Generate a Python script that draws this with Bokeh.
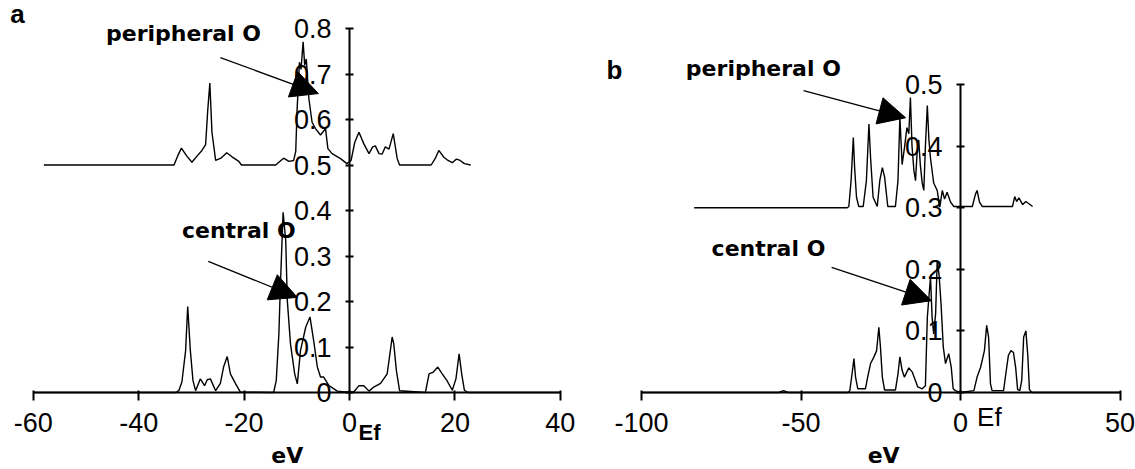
from bokeh.plotting import figure
from bokeh.layouts import row
from bokeh.models import Range1d, FixedTicker, Label, Arrow, NormalHead, CustomJSTickFormatter
from bokeh.embed import file_html
from bokeh.resources import INLINE

# ---------------- data ----------------
# Panel a, peripheral O (values as read on the y axis, baseline 0.5)
a_per_ev = [-58, -33.3, -32.6, -31.9, -30.9, -29.9, -28.9, -28.0, -27.3, -26.9, -26.5, -26.1,
            -25.4, -24.4, -23.3, -22.3, -21.0, -20.5, -14.0, -13.4, -12.5, -11.5, -10.6, -10.2,
            -9.95, -9.5, -9.2, -8.8, -8.5, -8.2, -7.7, -7.1, -6.45, -5.5, -4.55, -4.1, -3.3,
            -1.7, -0.5, 0.3, 1.0, 1.8, 2.7, 3.7, 4.4, 4.9, 5.6, 6.2, 6.8, 7.5, 8.3, 8.7, 9.05,
            9.5, 15.5, 16.3, 16.95, 17.9, 18.7, 19.5, 20.3, 21.0, 21.8, 23.0]
a_per_val = [0.5, 0.5, 0.52, 0.537, 0.52, 0.506, 0.52, 0.532, 0.545, 0.62, 0.68, 0.572,
             0.51, 0.515, 0.527, 0.518, 0.508, 0.5, 0.5, 0.506, 0.515, 0.508, 0.51, 0.53,
             0.62, 0.726, 0.71, 0.771, 0.719, 0.733, 0.645, 0.594, 0.58, 0.566, 0.58, 0.536, 0.525,
             0.514, 0.503, 0.51, 0.55, 0.572, 0.547, 0.525, 0.54, 0.542, 0.525, 0.524, 0.54, 0.535,
             0.569, 0.54, 0.514, 0.5, 0.5, 0.515, 0.532, 0.517, 0.51, 0.505, 0.513, 0.51, 0.503, 0.5]

# Panel a, central O
a_cen_ev = [-60, -33.0, -32.4, -31.8, -31.1, -30.7, -30.2, -29.7, -29.2, -28.3, -27.5, -27.0,
            -26.4, -25.4, -24.5, -23.9, -23.2, -22.6, -21.6, -20.7, -14.4, -13.9, -13.4, -13.1,
            -12.6, -12.1, -11.8, -11.2, -10.4, -9.9, -9.3, -8.3, -7.5, -6.8, -6.1, -5.5, -4.9,
            -3.9, -2.3, -0.8, 0.8, 1.8, 2.7, 3.7, 4.6, 5.9, 7.15, 8.1, 8.4, 8.9, 9.5, 14.4, 15.1,
            15.9, 16.75, 17.6, 18.5, 19.5, 20.2, 20.8, 21.3, 21.8, 22.5, 40]
a_cen_val = [0, 0, 0.004, 0.023, 0.092, 0.189, 0.092, 0.026, 0.004, 0.03, 0.015, 0.028,
             0.03, 0.004, 0.02, 0.056, 0.079, 0.041, 0.019, 0.001, 0, 0.026, 0.129, 0.239,
             0.396, 0.334, 0.202, 0.107, 0.041, 0.019, 0.092, 0.144, 0.166, 0.114, 0.056, 0.034, 0.034,
             0.015, 0.003, 0.001, 0.001, 0.015, 0.015, 0.003, 0.012, 0.02, 0.041, 0.122, 0.107, 0.048,
             0.004, 0, 0.041, 0.045, 0.056, 0.041, 0.026, 0.005, 0.03, 0.085, 0.04, 0.005, 0, 0]

# Panel b, peripheral O (baseline 0.3)
b_per_ev = [-83.5, -35.5, -35.0, -34.3, -33.6, -33.2, -32.6, -31.9, -30.5, -29.5, -28.7, -28.2,
            -27.4, -26.1, -25.3, -24.5, -23.8, -22.8, -20.4, -19.6, -19.0, -18.3, -17.5, -16.8,
            -16.2, -15.7, -15.2, -14.6, -14.1, -13.6, -13.1, -12.6, -12.0, -11.5, -11.0, -10.4,
            -9.9, -9.4, -8.9, -8.4, -7.3, -6.5, -5.7, -5.0, -4.2, -3.1, -2.1, 3.7, 4.7, 5.2,
            5.95, 6.8, 16.3, 17.0, 17.6, 18.3, 19.5, 20.5, 22.6]
b_per_val = [0.3, 0.3, 0.302, 0.344, 0.414, 0.366, 0.317, 0.302, 0.302, 0.344, 0.436, 0.382,
             0.317, 0.302, 0.344, 0.365, 0.35, 0.302, 0.302, 0.344, 0.447, 0.37, 0.40, 0.43,
             0.42, 0.479, 0.40, 0.36, 0.344, 0.39, 0.41, 0.37, 0.34, 0.328, 0.40, 0.466,
             0.41, 0.38, 0.36, 0.34, 0.328, 0.301, 0.328, 0.314, 0.325, 0.309, 0.302, 0.302, 0.322,
             0.328, 0.309, 0.302, 0.302, 0.318, 0.31, 0.316, 0.305, 0.31, 0.302]

# Panel b, central O
b_cen_ev = [-100, -57, -55.5, -54, -35.3, -34.7, -34.0, -33.4, -32.9, -32.2, -29.8, -29.1, -28.2,
            -27.2, -26.3, -25.6, -25.1, -24.5, -23.8, -20.4, -19.6, -19.0, -18.3, -17.6, -16.2,
            -15.1, -14.1, -13.4, -12.0, -11.0, -10.4, -9.9, -9.4, -8.9, -8.4, -7.8, -7.3, -6.7,
            -6.1, -5.4, -4.7, -3.7, -2.9, -2.3, -1.6, 0, 4.2, 5.2, 6.3, 7.5, 8.2, 8.8, 9.4, 9.9,
            13.5, 14.2, 15.0, 15.8, 16.6, 17.3, 17.9, 18.6, 19.2, 19.8, 20.5, 21.1, 21.6, 22.3, 50]
b_cen_val = [0, 0, 0.003, 0, 0, 0.003, 0.03, 0.055, 0.025, 0.006, 0.006, 0.025, 0.047,
             0.057, 0.068, 0.106, 0.074, 0.025, 0.004, 0.004, 0.03, 0.058, 0.036, 0.025, 0.04,
             0.033, 0.019, 0.009, 0.006, 0.011, 0.122, 0.155, 0.187, 0.122, 0.095, 0.128, 0.214, 0.19,
             0.144, 0.074, 0.047, 0.063, 0.041, 0.006, 0.003, 0, 0.003, 0.025, 0.041, 0.068, 0.109,
             0.09, 0.014, 0.003, 0.003, 0.03, 0.06, 0.068, 0.065, 0.04, 0.005, 0.003, 0.02, 0.09,
             0.1, 0.06, 0.005, 0, 0]

a_xticks = [-60, -40, -20, 0, 20, 40]
a_yticks = [0, 0.1, 0.2, 0.3, 0.4, 0.5, 0.6, 0.7, 0.8]
b_xticks = [-100, -50, 0, 50]
b_yticks = [0, 0.1, 0.2, 0.3, 0.4, 0.5]

# ---------------- geometry ----------------
# each panel's frame covers its whole canvas; axes cross at the origin
A_W, B_W, H = 590, 545, 469
A_ORIGIN = (349, 392)          # pixel position of (0, 0) inside panel a
A_SCALE = (5.27, 455.0)        # pixels per eV, pixels per unit of DOS
B_ORIGIN = (370, 392)
B_SCALE = (3.19, 616.0)

TICK_FONT = "Liberation Sans"
BOLD_FONT = "DejaVu Sans"
TICK_SIZE = "27px"
LINE_W = 1.4

xfmt = CustomJSTickFormatter(code="return tick.toFixed(0);")
yfmt = CustomJSTickFormatter(code="return Math.abs(tick) < 1e-9 ? '0' : tick.toFixed(1);")


def make_panel(w, origin, scale, xt, yt):
    ox, oy = origin
    sx, sy = scale
    xr = Range1d(-ox / sx, (w - ox) / sx)
    yr = Range1d((oy - H) / sy, oy / sy)
    p = figure(x_range=xr, y_range=yr, width=w, height=H,
               min_border_left=0, min_border_right=0, min_border_top=0, min_border_bottom=0,
               output_backend="svg", toolbar_location=None)
    p.grid.visible = False
    p.outline_line_color = None
    p.background_fill_color = "white"
    p.border_fill_color = "white"

    xa = p.xaxis[0]
    xa.fixed_location = 0
    xa.bounds = (xt[0], xt[-1])
    xa.ticker = FixedTicker(ticks=xt)
    xa.formatter = xfmt
    xa.major_tick_in = 2
    xa.major_tick_out = 8
    xa.minor_tick_line_color = None
    xa.axis_line_width = 2
    xa.major_tick_line_width = 2
    xa.major_label_standoff = 12
    xa.major_label_text_font = TICK_FONT
    xa.major_label_text_font_size = TICK_SIZE
    xa.major_label_text_color = "black"

    ya = p.yaxis[0]
    ya.fixed_location = 0
    ya.bounds = (yt[0], yt[-1])
    ya.ticker = FixedTicker(ticks=yt)
    ya.formatter = yfmt
    ya.major_tick_in = 4
    ya.major_tick_out = 4
    ya.minor_tick_line_color = None
    ya.axis_line_width = 2
    ya.major_tick_line_width = 2
    ya.major_label_standoff = 14
    ya.major_label_text_font = TICK_FONT
    ya.major_label_text_font_size = TICK_SIZE
    ya.major_label_text_color = "black"
    return p


def text_label(p, x, y, text, size="22px", font=BOLD_FONT, bold=True, align="center"):
    p.add_layout(Label(x=x, y=y, text=text, text_font=font, text_font_size=size,
                       text_font_style="bold" if bold else "normal", text_align=align,
                       text_baseline="middle", text_color="black"))


def arrow(p, xs, ys, xe, ye):
    p.add_layout(Arrow(end=NormalHead(size=27, fill_color="black", line_color="black"),
                       x_start=xs, y_start=ys, x_end=xe, y_end=ye,
                       line_width=1.3, line_color="black"))


# ---------------- panel a ----------------
pa = make_panel(A_W, A_ORIGIN, A_SCALE, a_xticks, a_yticks)
pa.line(a_per_ev, a_per_val, line_color="black", line_width=LINE_W)
pa.line(a_cen_ev, a_cen_val, line_color="black", line_width=LINE_W)
text_label(pa, -63.0, 0.832, "a", size="26px", font="Liberation Sans")
text_label(pa, -31.5, 0.79, "peripheral O")
text_label(pa, -21.0, 0.355, "central O")
arrow(pa, -24.5, 0.736, -5.9, 0.657)
arrow(pa, -26.8, 0.288, -9.9, 0.209)
text_label(pa, 1.7, -0.088, "Ef", size="22px", font="Liberation Sans", align="left")
text_label(pa, -11.8, -0.138, "eV", size="22px")

# ---------------- panel b ----------------
pb = make_panel(B_W, B_ORIGIN, B_SCALE, b_xticks, b_yticks)
pb.line(b_per_ev, b_per_val, line_color="black", line_width=LINE_W)
pb.line(b_cen_ev, b_cen_val, line_color="black", line_width=LINE_W)
text_label(pb, -108.5, 0.523, "b", size="26px", font="Liberation Sans")
text_label(pb, -61.8, 0.526, "peripheral O")
text_label(pb, -60.2, 0.234, "central O")
arrow(pb, -49.2, 0.490, -17.2, 0.446)
arrow(pb, -40.4, 0.203, -9.1, 0.149)
text_label(pb, 5.2, -0.039, "Ef", size="26px", font=TICK_FONT, bold=False, align="left")
text_label(pb, -24.1, -0.102, "eV", size="22px")

layout = row(pa, pb)
open("out.html", "w").write(file_html(layout, INLINE))
